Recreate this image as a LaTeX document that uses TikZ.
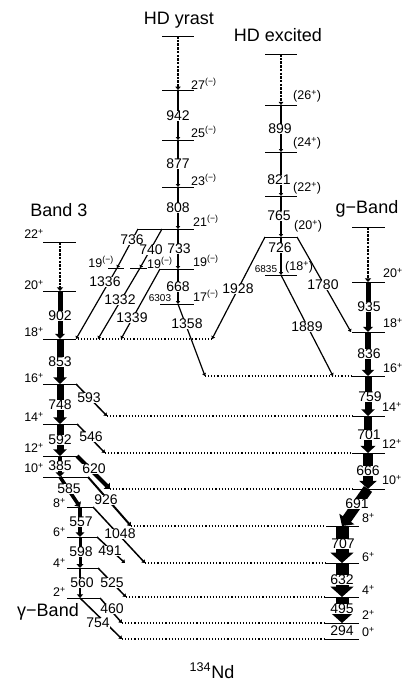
\documentclass[tikz,border=0pt]{standalone}
\usepackage{fontspec}
\setmainfont{Liberation Sans}
\usetikzlibrary{arrows.meta}
\begin{document}
\begin{tikzpicture}[x=1pt,y=-1pt,
  lvl/.style={line width=1pt},
  ext/.style={line width=1.1pt,dash pattern=on 1.1pt off 2pt},
  gam/.style={line width=#1,-{Triangle[length=2pt 0.65,width=2pt 1.6]}},
  gam/.default=1.3pt,
  unres/.style={gam=#1,dash pattern=on 2.5pt off 1.2pt},
  lab/.style={fill=white,inner sep=0.5pt,font=\fontsize{14}{14}\selectfont},
  elab/.style={inner sep=0pt,font=\fontsize{10}{10}\selectfont},
  spin/.style={inner sep=0pt,font=\fontsize{12.5}{12.5}\selectfont},
  bandname/.style={anchor=base,font=\fontsize{18}{18}\selectfont}
]
\useasboundingbox (0,0) rectangle (402,683);

% levels: name/x/y/left end/right end
\foreach \n/\x/\y/\l/\r in {
  yT/178/36/162/194, y27/178/90/162/194, y25/178/140/162/194, y23/178/187/162/194,
  y21/178/229/138/194, y19/178/269/160/194, y17/178/304/160/194,
  s1/117/268/108/124, s2/140/268/130/147,
  eT/281/54/265/297, e26/281/105/265/297, e24/281/152/265/297, e22/281/196/265/297,
  e20/281/237/265/297, e18/281/275/265/297,
  b22/60/242/43/76, b20/60/291/43/76, b18/60/339/43/76, b16/60/384/43/76,
  b14/60/424/43/77, b12/60/456/43/77, b10/60/477/43/88,
  c8/80/507/67/93, c6/80/537/67/97, c4/80/568/67/98, c2/80/598/67/100,
  gT/368/227/352/385, g20/368/282/352/385, g18/368/332/352/385, g16/368/376/352/385,
  g14/368/416/352/385, g12/368/453/352/385, g10/368/489/352/385,
  g8/342/526/326/359, g6/342/563/326/359, g4/342/597/325/359, g2/342/623/325/359,
  g0/342/639/325/359}
  {\coordinate (\n) at (\x,\y);
   \coordinate (\n-l) at (\l,\y);
   \coordinate (\n-r) at (\r,\y);
   \draw[lvl] (\n-l) -- (\n-r);}

% ends of the linking transitions
\coordinate (t1336) at (76,339);
\coordinate (t1332) at (98,339);
\coordinate (t1339) at (121,339);
\coordinate (t1928) at (212,339);
\coordinate (t1358) at (205,376);
\coordinate (t1889) at (333,376);
\coordinate (t1780) at (351,332);
\coordinate (t593) at (107,416);
\coordinate (t546) at (105,453);
\coordinate (t620) at (110,489);
\coordinate (t926) at (131,526);
\coordinate (t1048) at (145,563);
\coordinate (t491) at (125,563);
\coordinate (t525) at (126,597);
\coordinate (t460) at (122,623);
\coordinate (t754) at (122,639);
\coordinate (y21m) at (162,229);

% dotted feeding lines
\foreach \a/\b in {t1928/b18-r, t1358/g16-l, t593/g14-l, t546/g12-l, t620/g10-l,
  t926/g8-l, t1048/g6-l, t525/g4-l, t460/g2-l, t754/g0-l}
  \draw[ext] (\a) -- (\b);

% unresolved tops
\draw[unres=2pt] (yT) -- (y27);
\draw[unres=1.6pt] (eT) -- (e26);
\draw[unres=2.6pt] (b22) -- (b20);
\draw[unres=2.6pt] (gT) -- (g20);

% gamma transitions
\foreach \a/\b/\w in {
  y27/y25/1.5pt, y25/y23/1.5pt, y23/y21/1.5pt, y21/y19/1.5pt, y19/y17/1.3pt,
  y17/t1358/1.2pt,
  e26/e24/1.3pt, e24/e22/1.3pt, e22/e20/1.3pt, e20/e18/1.2pt, e18/t1889/1.2pt,
  y21-l/s1/1.2pt, s1/t1336/1.2pt, y21m/s2/1.2pt, s2/t1332/1.2pt, y19-l/t1339/1.2pt,
  e20-l/t1928/1.2pt, e20-r/t1780/1.2pt,
  b20/b18/5pt, b18/b16/7pt, b16/b14/7pt, b14/b12/7pt, b12/b10/4pt, b10/c8/3.5pt,
  c8/c6/4pt, c6/c4/3pt, c4/c2/2.5pt,
  g20/g18/5pt, g18/g16/6.5pt, g16/g14/7pt, g14/g12/8pt, g12/g10/9.5pt, g10/g8/10pt,
  g8/g6/13pt, g6/g4/13pt, g4/g2/13pt,
  b16-r/t593/1.5pt, b14-r/t546/1.5pt, b12-r/t620/4pt, b10-r/t926/2pt,
  c8-r/t1048/1.5pt, c6-r/t491/1.5pt, c4-r/t525/1.5pt, c2-r/t460/1.5pt, c2/t754/1.5pt}
  \draw[gam=\w] (\a) -- (\b);

% energies
\foreach \t/\x/\y in {942/178/116, 877/178/164, 808/178/208, 733/179/249, 668/178/287,
  899/280/129, 821/279/180, 765/279/216, 726/280/248,
  902/60/316, 853/60/362, 748/60/405, 592/60/440, 385/60/466,
  557/81/522, 598/81/552, 560/82/583,
  935/369/307, 836/369/354, 759/370/397, 701/369/435, 666/368/471, 691/357/504,
  707/343/544, 632/342/580, 495/342/609, 294/342/631,
  736/132/240, 740/151/250, 1336/105/282, 1332/120/300, 1339/132/318, 1358/187/324,
  1928/238/289, 1780/323/285, 1889/307/327,
  593/89/398, 546/91/437, 620/94/469, 585/69/489, 926/106/500, 1048/120/534,
  491/110/551, 525/112/583, 460/112/609, 754/98/623}
  \node[lab] (E\t) at (\x,\y) {\t};
\node[elab] (x6303) at (160,298) {6303};
\node[elab] (x6835) at (266,269) {6835};

% spins
\foreach \j/\y in {22/234, 20/285, 18/332, 16/378, 14/417, 12/448, 10/468}
  \node[spin,anchor=east] (b3s\j) at (44,\y) {\j\textsuperscript{+}};
\foreach \j/\y in {8/503, 6/532, 4/563, 2/592}
  \node[spin,anchor=east] (cs\j) at (66,\y) {\j\textsuperscript{+}};
\foreach \j/\x/\y in {20/383/273, 18/383/323, 16/383/368, 14/382/407, 12/382/444,
  10/382/480, 8/362/518, 6/362/557, 4/362/590, 2/362/615, 0/362/632}
  \node[spin,anchor=west] (gs\j) at (\x,\y) {\j\textsuperscript{+}};
\foreach \j/\x/\y in {27/191/84, 25/191/132, 23/191/180, 21/193/221, 19/193/261, 17/193/296}
  \node[spin,anchor=west] (ys\j) at (\x,\y) {\j\textsuperscript{(−)}};
\node[spin,anchor=east] (ss1) at (114,262) {19\textsuperscript{(−)}};
\node[spin,anchor=west] (ss2) at (147,263) {19\textsuperscript{(−)}};
\foreach \j/\x/\y in {26/293/96, 24/293/143, 22/293/188, 20/294/226, 18/285/267}
  \node[spin,anchor=west] (es\j) at (\x,\y) {(\j\textsuperscript{+})};

% band names
\node[bandname] (tY) at (179,24) {HD yrast};
\node[bandname] (tE) at (278,41) {HD excited};
\node[bandname] (tB) at (59,216) {Band 3};
\node[bandname] (tG) at (367,213) {g−Band};
\node[bandname] (tC) at (48,616) {γ−Band};
\node[bandname] (tN) at (212,678) {\textsuperscript{134}Nd};
\end{tikzpicture}
\end{document}
